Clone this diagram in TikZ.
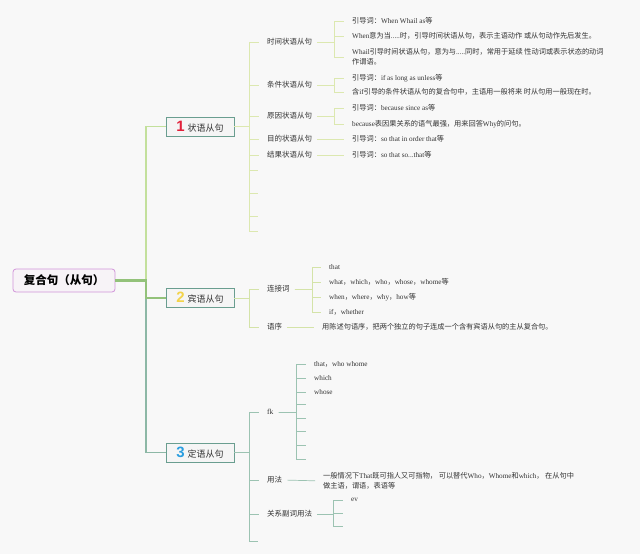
\documentclass[tikz,border=0pt]{standalone}
\usepackage{fontspec}
\setmainfont{Noto Sans CJK SC}
\newfontfamily\en{Liberation Serif}
\newfontfamily\numf{Liberation Sans}
\definecolor{bg}{HTML}{F8F8F8}
\definecolor{boxc}{HTML}{6A9E90}
\definecolor{boxf}{HTML}{F5F5F5}
\definecolor{rootc}{HTML}{D294DA}
\definecolor{rootf}{HTML}{F7F3F7}
\definecolor{txt}{HTML}{333333}
\definecolor{mainc}{HTML}{93C27A}
\definecolor{trunka}{HTML}{C3E09C}
\definecolor{trunkc}{HTML}{8DB8A6}
\definecolor{la}{HTML}{DCE8B0}
\definecolor{lb}{HTML}{D4E3A8}
\definecolor{lc}{HTML}{9CC3B2}
\definecolor{nred}{HTML}{E2203A}
\definecolor{nyel}{HTML}{F3D34A}
\definecolor{nblue}{HTML}{2A9EE0}
\tikzset{
  box/.style={draw=boxc, fill=boxf, line width=0.8pt, minimum width=68pt, minimum height=19pt, inner sep=0pt, font=\fontsize{9}{10}\selectfont, text=txt},
  rootbox/.style={draw=rootc, fill=rootf, line width=0.8pt, rounded corners=3pt, minimum width=102pt, minimum height=23pt, inner sep=0pt, font=\fontsize{11.5}{12}\selectfont\bfseries, text=black},
  lbl/.style={anchor=west, inner sep=0pt, font=\fontsize{7.5}{9}\selectfont, text=txt},
  leaf/.style={anchor=west, inner sep=0pt, font=\fontsize{7.2}{10}\selectfont, text=txt, align=left},
  bline/.style={line width=0.7pt},
  lineA/.style={bline, draw=la, shorten >=8pt},
  lineAA/.style={bline, draw=la, shorten <=5pt, shorten >=8pt},
  lineB/.style={bline, draw=lb, shorten >=8pt},
  lineBB/.style={bline, draw=lb, shorten <=5pt, shorten >=8pt},
  lineC/.style={bline, draw=lc, shorten >=8pt},
  lineCC/.style={bline, draw=lc, shorten <=5pt, shorten >=8pt},
}
\begin{document}
\begin{tikzpicture}[x=1pt, y=-1pt]
\fill[bg] (0,0) rectangle (640,554);
\useasboundingbox (0,0) rectangle (640,554);

% junction coordinates
\coordinate (jr) at (146,0);
\coordinate (j1) at (249,0);
\coordinate (jt) at (334,0);
\coordinate (jk) at (312,0);
\coordinate (jf) at (296,0);
\coordinate (jg) at (333,0);

% root and main boxes
\node[rootbox] (root) at (64,280.5) {复合句（从句）};
\node[box] (b1) at (200,126.5) {\textcolor{nred}{\numf\bfseries\fontsize{15}{15}\selectfont 1}\hspace{3pt}状语从句};
\node[box] (b2) at (200,298) {\textcolor{nyel}{\numf\bfseries\fontsize{15}{15}\selectfont 2}\hspace{3pt}宾语从句};
\node[box] (b3) at (200,452.5) {\textcolor{nblue}{\numf\bfseries\fontsize{15}{15}\selectfont 3}\hspace{3pt}定语从句};

% ---------- branch 1 ----------
\node[lbl] (t1) at (267,42) {时间状语从句};
\node[lbl] (t2) at (267,85) {条件状语从句};
\node[lbl] (t3) at (267,116) {原因状语从句};
\node[lbl] (t4) at (267,139) {目的状语从句};
\node[lbl] (t5) at (267,155) {结果状语从句};
\coordinate (e11) at (266,170);
\coordinate (e12) at (266,193);
\coordinate (e13) at (266,216);
\coordinate (e14) at (266,231);

\node[leaf] (l1) at (352,21) {引导词：{\en When Whail as}等};
\node[leaf] (l2) at (352,36) {{\en When}意为当{\en .....}时，引导时间状语从句，表示主语动作 或从句动作先后发生。};
\node[leaf] (l3) at (352,57) {{\en Whail}引导时间状语从句，意为与{\en .....}同时，常用于延续 性动词或表示状态的动词\\作谓语。};
\node[leaf] (l4) at (352,78) {引导词：{\en if as long as unless}等};
\node[leaf] (l5) at (352,92) {含{\en if}引导的条件状语从句的复合句中，主语用一般将来 时从句用一般现在时。};
\node[leaf] (l6) at (352,108) {引导词：{\en because since as}等};
\node[leaf] (l7) at (352,124) {{\en because}表因果关系的语气最强，用来回答{\en Why}的问句。};
\node[leaf] (l8) at (352,139) {引导词：{\en so that in order that}等};
\node[leaf] (l9) at (352,155) {引导词：{\en so that so...that}等};

\foreach \c in {t1,t2,t3,t4,t5,e11,e12,e13,e14}
  \draw[lineA] (b1.east) -- (b1.east -| j1) |- (\c);
\foreach \c in {l1,l2,l3}
  \draw[lineAA] (t1.east) -- (t1.east -| jt) |- (\c.west);
\foreach \c in {l4,l5}
  \draw[lineAA] (t2.east) -- (t2.east -| jt) |- (\c.west);
\foreach \c in {l6,l7}
  \draw[lineAA] (t3.east) -- (t3.east -| jt) |- (\c.west);
\draw[lineAA] (t4.east) -- (l8.west);
\draw[lineAA] (t5.east) -- (l9.west);

% ---------- branch 2 ----------
\node[lbl] (k1) at (267,289) {连接词};
\node[lbl] (k2) at (267,327) {语序};
\node[leaf] (m1) at (329,267) {{\en that}};
\node[leaf] (m2) at (329,282) {{\en what}，{\en which}，{\en who}，{\en whose}，{\en whome}等};
\node[leaf] (m3) at (329,297) {{\en when}，{\en where}，{\en why}，{\en how}等};
\node[leaf] (m4) at (329,312) {{\en if}，{\en whether}};
\node[leaf] (m5) at (322,327) {用陈述句语序，把两个独立的句子连成一个含有宾语从句的主从复合句。};

\foreach \c in {k1,k2}
  \draw[lineB] (b2.east) -- (b2.east -| j1) |- (\c.west);
\foreach \c in {m1,m2,m3,m4}
  \draw[lineBB] (k1.east) -- (k1.east -| jk) |- (\c.west);
\draw[lineBB] (k2.east) -- (m5.west);

% ---------- branch 3 ----------
\node[lbl] (f1) at (267,412) {{\en fk}};
\node[lbl] (f2) at (267,480) {用法};
\node[lbl] (f3) at (267,514) {关系副词用法};
\coordinate (e31) at (266,541);

\node[leaf] (n1) at (314,364) {{\en that}，{\en who whome}};
\node[leaf] (n2) at (314,378) {{\en which}};
\node[leaf] (n3) at (314,392) {{\en whose}};
\coordinate (e41) at (314,404);
\coordinate (e42) at (314,418);
\coordinate (e43) at (314,431);
\coordinate (e44) at (314,445);
\coordinate (e45) at (314,459);
\node[leaf] (n4) at (323,481) {一般情况下{\en That}既可指人又可指物， 可以替代{\en Who}，{\en Whome}和{\en which}， 在从句中\\做主语，谓语，表语等};
\node[leaf] (n5) at (351,500) {{\en ev}};
\coordinate (e51) at (351,513);
\coordinate (e52) at (351,526);

\foreach \c in {f1,f2,f3,e31}
  \draw[lineC] (b3.east) -- (b3.east -| j1) |- (\c);
\foreach \c in {n1,n2,n3,e41,e42,e43,e44,e45}
  \draw[lineCC] (f1.east) -- (f1.east -| jf) |- (\c);
\draw[lineCC] (f2.east) -- (n4.west);
\foreach \c in {n5,e51,e52}
  \draw[lineCC] (f3.east) -- (f3.east -| jg) |- (\c);

% ---------- trunk ----------
\draw[trunka, line width=1.8pt] (root.east -| jr) |- (b1.west);
\draw[trunkc, line width=1.2pt] (root.east -| jr) |- (b3.west);
\draw[mainc, line width=2.2pt] (root.east) -- (root.east -| jr) |- (b2.west);
\end{tikzpicture}
\end{document}
